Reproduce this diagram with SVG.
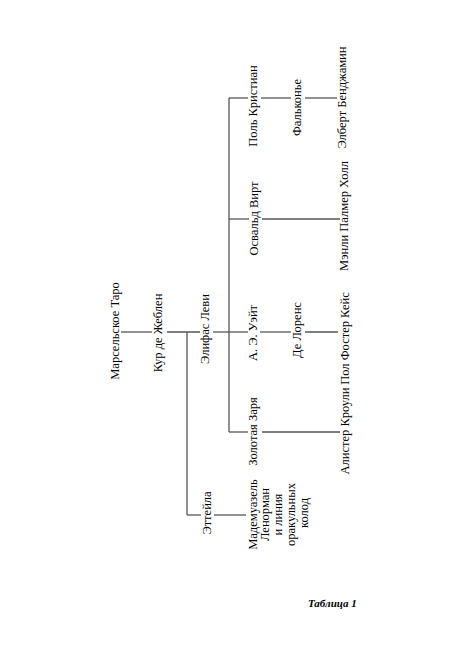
<svg xmlns="http://www.w3.org/2000/svg" width="468" height="666" viewBox="0 0 468 666">
<style>
.t{font-family:"Liberation Serif","Times New Roman",serif;font-size:12.5px;fill:#000;text-anchor:middle}
.c line{stroke:#555;stroke-width:1.3;fill:none}
.cap{font-family:"Liberation Serif","Times New Roman",serif;font-size:11px;font-style:italic;font-weight:bold;fill:#000}
</style>
<rect width="468" height="666" fill="#fff"/>
<g class="c" id="connectors">
<line x1="121" y1="332" x2="152" y2="332"/>
<line x1="167" y1="332" x2="200" y2="332"/>
<line x1="213" y1="332" x2="229" y2="332"/>
<line x1="187" y1="332" x2="187" y2="515"/>
<line x1="187" y1="515" x2="201" y2="515"/>
<line x1="214" y1="515" x2="246" y2="515"/>
<line x1="229" y1="98" x2="229" y2="432"/>
<line x1="229" y1="98" x2="248" y2="98"/>
<line x1="261" y1="98" x2="291" y2="98"/>
<line x1="305" y1="98" x2="337" y2="98"/>
<line x1="229" y1="219" x2="249" y2="219"/>
<line x1="262" y1="219" x2="340" y2="219"/>
<line x1="229" y1="332" x2="248" y2="332"/>
<line x1="260" y1="332" x2="291" y2="332"/>
<line x1="305" y1="332" x2="338" y2="332"/>
<line x1="229" y1="432" x2="248" y2="432"/>
<line x1="262" y1="432" x2="340" y2="432"/>
</g>
<g id="n-marseille"><text class="t" transform="translate(118.5,331) rotate(-90)">Марсельское Таро</text></g>
<g id="n-gebelin"><text class="t" transform="translate(161.5,333) rotate(-90)">Кур де Жеблен</text></g>
<g id="n-levi"><text class="t" transform="translate(208.5,329) rotate(-90)">Элифас Леви</text></g>
<g id="n-etteilla"><text class="t" transform="translate(210.5,513) rotate(-90)">Эттейла</text></g>
<g id="n-lenormand"><text class="t" transform="rotate(-90)">
<tspan x="-513" y="256.5">Мадемуазель</tspan>
<tspan x="-513" y="269.3">Ленорман</tspan>
<tspan x="-513" y="282.1">и линия</tspan>
<tspan x="-513" y="294.9">оракульных</tspan>
<tspan x="-513" y="307.7">колод</tspan>
</text></g>
<g id="n-goldendawn"><text class="t" transform="translate(256.5,431.5) rotate(-90)">Золотая Заря</text></g>
<g id="n-crowley"><text class="t" transform="translate(348.5,431) rotate(-90)">Алистер Кроули</text></g>
<g id="n-waite"><text class="t" transform="translate(256.5,333) rotate(-90)">А. Э. Уэйт</text></g>
<g id="n-delaurence"><text class="t" transform="translate(300.5,330) rotate(-90)">Де Лоренс</text></g>
<g id="n-case"><text class="t" transform="translate(348.5,338.5) rotate(-90)">Пол Фостер Кейс</text></g>
<g id="n-wirth"><text class="t" transform="translate(258.3,218.5) rotate(-90)">Освальд Вирт</text></g>
<g id="n-hall"><text class="t" transform="translate(348.3,216) rotate(-90)">Мэнли Палмер Холл</text></g>
<g id="n-christian"><text class="t" transform="translate(256.6,106) rotate(-90)">Поль Кристиан</text></g>
<g id="n-falconnier"><text class="t" transform="translate(300.5,107.5) rotate(-90)">Фальконье</text></g>
<g id="n-benjamine"><text class="t" transform="translate(345.5,97.5) rotate(-90)">Элберт Бенджамин</text></g>
<text class="cap" x="308" y="607">Таблица 1</text>
</svg>
